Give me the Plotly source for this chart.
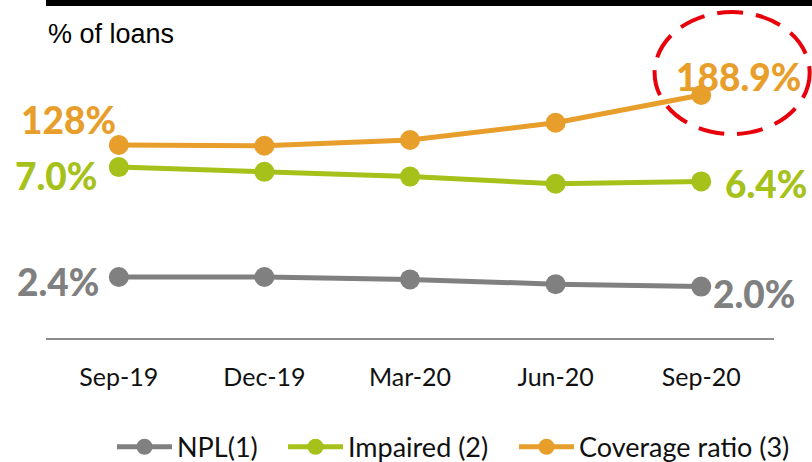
import plotly.graph_objects as go

# Quarterly asset-quality ratios
quarters = ["Sep-19", "Dec-19", "Mar-20", "Jun-20", "Sep-20"]
npl = [2.4, 2.4, 2.3, 2.1, 2.0]
impaired = [7.0, 6.8, 6.6, 6.3, 6.4]
coverage = [128.0, 127.0, 134.0, 155.0, 188.9]

GREY = "#808080"
GREEN = "#A6C11A"
ORANGE = "#E89E2B"
LABEL_FONT = "Lato"

fig = go.Figure()


def add_series(name, values, color, legend, secondary=False):
    fig.add_trace(go.Scatter(
        x=quarters, y=values, name=name, mode="lines+markers",
        line=dict(color=color, width=5),
        marker=dict(color=color, size=20),
        yaxis="y2" if secondary else "y",
        legend=legend,
        cliponaxis=False,
    ))


add_series("NPL(1)", npl, GREY, "legend")
add_series("Impaired (2)", impaired, GREEN, "legend2")
add_series("Coverage ratio (3)", coverage, ORANGE, "legend3", secondary=True)

# Value labels at the first and last quarter
labels = [
    (quarters[0], npl[0], "y", GREY, "right", -18, -4, f"{npl[0]:.1f}%"),
    (quarters[-1], npl[-1], "y", GREY, "left", 10, -7, f"{npl[-1]:.1f}%"),
    (quarters[0], impaired[0], "y", GREEN, "right", -20, -8, f"{impaired[0]:.1f}%"),
    (quarters[-1], impaired[-1], "y", GREEN, "left", 22, -2, f"{impaired[-1]:.1f}%"),
    (quarters[0], coverage[0], "y2", ORANGE, "right", -1, 25, f"{coverage[0]:.0f}%"),
    (quarters[-1], coverage[-1], "y2", ORANGE, "center", 37, 18, f"{coverage[-1]:.1f}%"),
]
for x, y, yref, color, anchor, dx, dy, text in labels:
    fig.add_annotation(
        x=x, y=y, yref=yref, text=text, showarrow=False,
        xanchor=anchor, yanchor="middle", xshift=dx, yshift=dy,
        font=dict(family=LABEL_FONT, size=37, color=color, weight=900),
    )

fig.add_annotation(
    xref="paper", yref="paper", x=0.0, y=0.957, xanchor="left", yanchor="middle",
    text="% of loans", showarrow=False,
    font=dict(family="Liberation Sans", size=27, color="black"),
)

# Header bar and highlight ring
fig.add_shape(type="rect", xref="paper", yref="paper",
              x0=0.0, x1=1.06, y0=1.044, y1=1.07,
              fillcolor="black", line=dict(width=0))
fig.add_shape(type="circle", xref="paper", yref="paper",
              x0=0.836, x1=1.049, y0=0.6415, y1=1.025,
              line=dict(color="#E8000B", width=4, dash="26px,13px"))


def legend_at(px):
    return dict(orientation="h", xref="container", x=px / 812, xanchor="left",
                yref="container", y=0.032, yanchor="middle",
                font=dict(family=LABEL_FONT, size=27, color="#111"),
                itemwidth=55, bgcolor="rgba(0,0,0,0)")


fig.update_layout(
    width=812, height=462,
    margin=dict(l=46, r=38, t=20, b=124),
    paper_bgcolor="white", plot_bgcolor="white",
    showlegend=True,
    legend=legend_at(112),
    legend2=legend_at(283),
    legend3=legend_at(514),
    xaxis=dict(type="category", range=[-0.5, 4.5], showgrid=False,
               showline=True, linecolor="#8c8c8c", linewidth=2, ticks="",
               ticklabelstandoff=16,
               tickfont=dict(family=LABEL_FONT, size=25, color="#111"),
               zeroline=False),
    yaxis=dict(range=[-0.152, 13.153], visible=False, showgrid=False),
    yaxis2=dict(range=[-107.1, 280.2], overlaying="y", side="right",
                visible=False, showgrid=False),
)

fig.write_html("out.html")
